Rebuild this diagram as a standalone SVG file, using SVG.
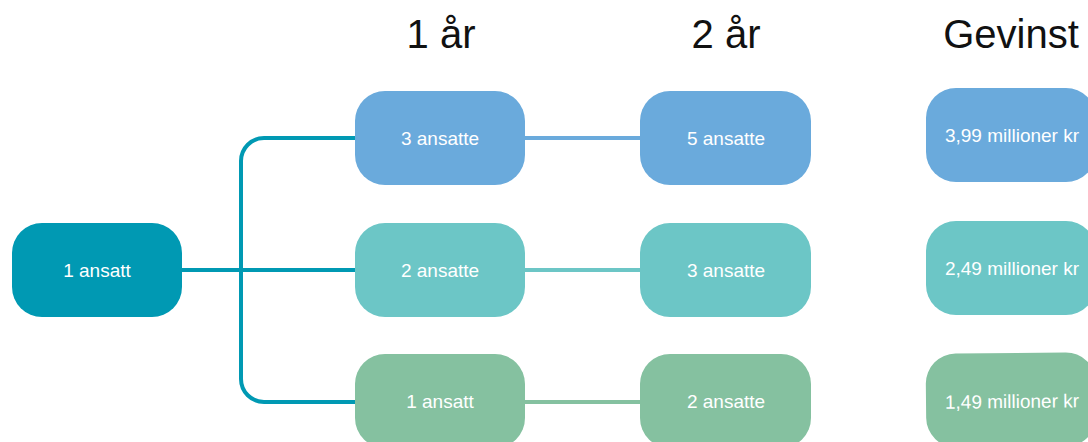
<svg xmlns="http://www.w3.org/2000/svg" width="1088" height="442" viewBox="0 0 1088 442">
<style>
.hdr{font-family:"Liberation Sans",Arial,sans-serif;font-size:40px;fill:#111;text-anchor:middle}
.lbl{font-family:"Liberation Sans",Arial,sans-serif;font-size:19px;fill:#fff;text-anchor:middle}
.dark{fill:#0099B3}
.blue{fill:#6AAADC}
.teal{fill:#6CC6C6}
.green{fill:#85C1A0}
.conn{fill:none;stroke-width:4}
</style>
<rect width="1088" height="442" fill="#fff"/>
<g id="headers">
<text class="hdr" x="441" y="48">1 år</text>
<text class="hdr" x="726" y="48">2 år</text>
<text class="hdr" x="1011" y="48">Gevinst</text>
</g>
<g id="connectors">
<path class="conn" stroke="#0099B3" d="M182 270 H355"/>
<path class="conn" stroke="#0099B3" d="M355 138 H264 A23 23 0 0 0 241 161 V379 A23 23 0 0 0 264 402 H355"/>
<path class="conn" stroke="#6AAADC" d="M525 138 H640"/>
<path class="conn" stroke="#6CC6C6" d="M525 270 H640"/>
<path class="conn" stroke="#85C1A0" d="M525 402 H640"/>
</g>
<g id="n0"><rect class="dark" x="12" y="223" width="170" height="94" rx="30"/><text class="lbl" x="97" y="277">1 ansatt</text></g>
<g id="n1a"><rect class="blue" x="355" y="91" width="170" height="94" rx="30"/><text class="lbl" x="440" y="145">3 ansatte</text></g>
<g id="n1b"><rect class="teal" x="355" y="223" width="170" height="94" rx="30"/><text class="lbl" x="440" y="277">2 ansatte</text></g>
<g id="n1c"><rect class="green" x="355" y="354" width="170" height="94" rx="30"/><text class="lbl" x="440" y="408">1 ansatt</text></g>
<g id="n2a"><rect class="blue" x="640" y="91" width="171" height="94" rx="30"/><text class="lbl" x="726" y="145">5 ansatte</text></g>
<g id="n2b"><rect class="teal" x="640" y="223" width="171" height="94" rx="30"/><text class="lbl" x="726" y="277">3 ansatte</text></g>
<g id="n2c"><rect class="green" x="640" y="354" width="171" height="94" rx="30"/><text class="lbl" x="726" y="408">2 ansatte</text></g>
<g id="n3a"><rect class="blue" x="926" y="88" width="170" height="94" rx="30"/><text class="lbl" x="1012" y="142">3,99 millioner kr</text></g>
<g id="n3b"><rect class="teal" x="926" y="221" width="170" height="94" rx="30"/><text class="lbl" x="1012" y="275">2,49 millioner kr</text></g>
<g id="n3c" transform="rotate(-0.6 1011 400)"><rect class="green" x="926" y="353" width="170" height="94" rx="30"/><text class="lbl" x="1012" y="408">1,49 millioner kr</text></g>
</svg>
